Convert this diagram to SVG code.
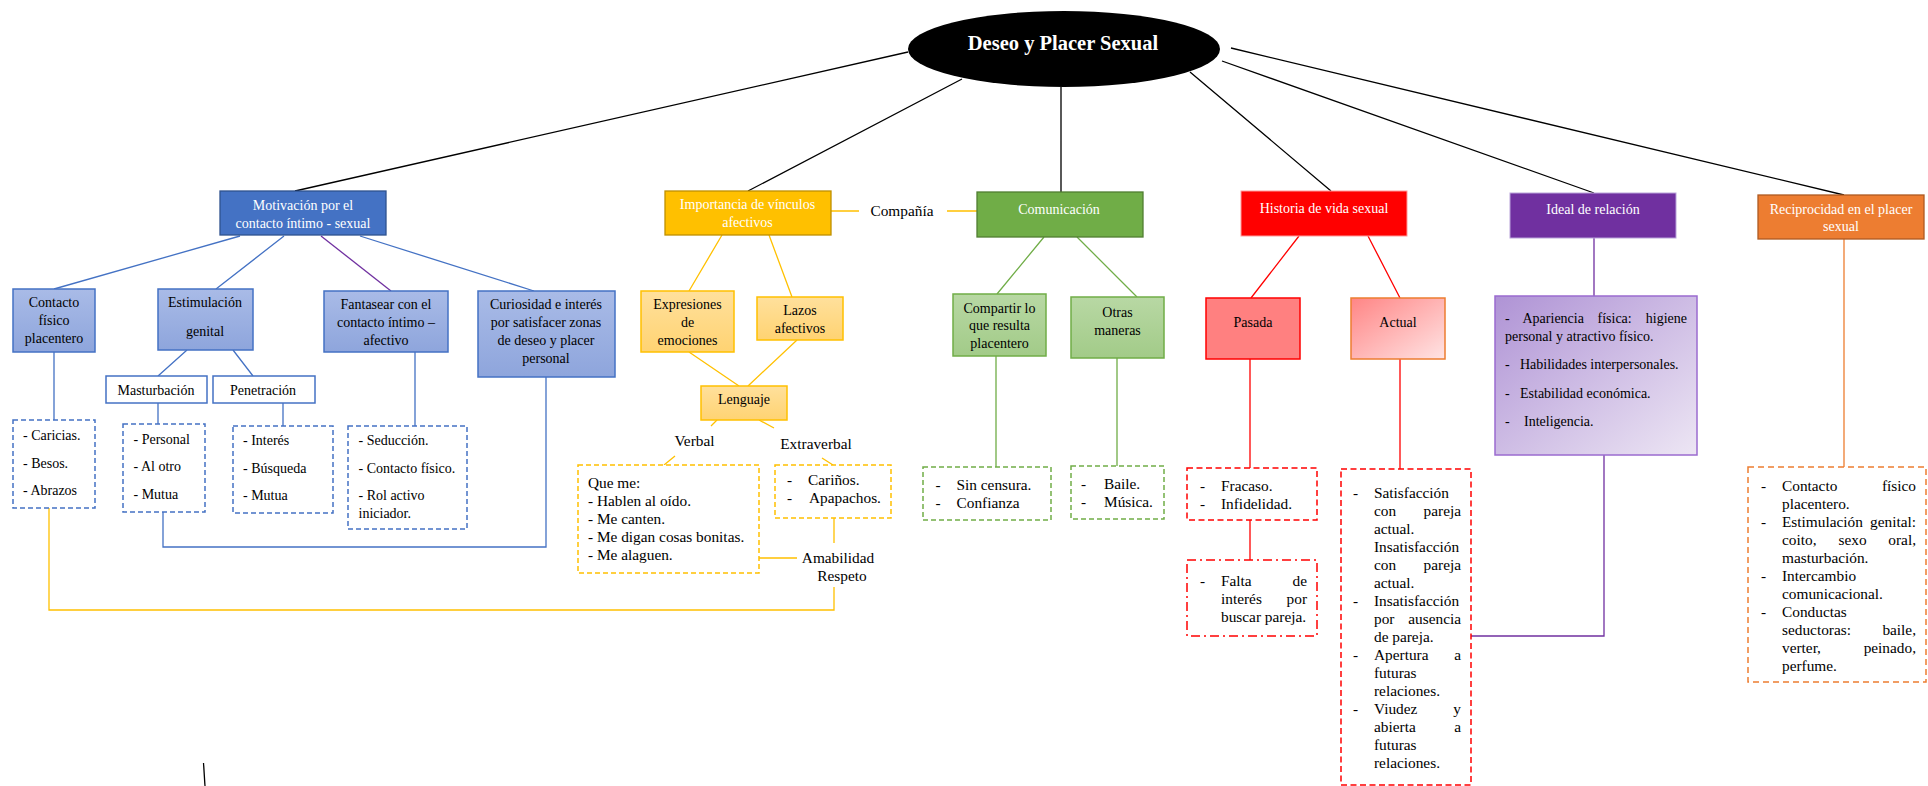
<svg xmlns="http://www.w3.org/2000/svg" width="1928" height="786" viewBox="0 0 1928 786">
<defs>
<linearGradient id="gBlue" x1="0" y1="0" x2="0" y2="1"><stop offset="0" stop-color="#A9BBE7"/><stop offset="1" stop-color="#8EA5DC"/></linearGradient>
<linearGradient id="gYel" x1="0" y1="0" x2="0" y2="1"><stop offset="0" stop-color="#FFE09C"/><stop offset="1" stop-color="#FFD372"/></linearGradient>
<linearGradient id="gGrn" x1="0" y1="0" x2="0" y2="1"><stop offset="0" stop-color="#B8D8A4"/><stop offset="1" stop-color="#A2CB88"/></linearGradient>
<linearGradient id="gAct" x1="0" y1="0" x2="1" y2="1"><stop offset="0" stop-color="#FF8585"/><stop offset="1" stop-color="#FFE4E4"/></linearGradient>
<linearGradient id="gPur" x1="0" y1="0" x2="1" y2="1"><stop offset="0" stop-color="#AF93D5"/><stop offset="1" stop-color="#EDE6F4"/></linearGradient>
</defs>
<style>
text{font-family:"Liberation Serif","Times New Roman",serif;fill:#000}
.t14{font-size:14px}
.t15{font-size:15.33px}
.w{fill:#fff}
.c{text-anchor:middle}
.e{text-anchor:end}
.ln{fill:none;stroke-width:1.3}
.k{stroke:#000}
.b{stroke:#4472C4}
.p{stroke:#7030A0}
.y{stroke:#FFC000}
.g{stroke:#70AD47}
.r{stroke:#FF0000}
.o{stroke:#ED7D31}
.dB{fill:#fff;stroke:#4472C4;stroke-width:1.5;stroke-dasharray:5 3}
.dY{fill:#fff;stroke:#FFC000;stroke-width:1.5;stroke-dasharray:5 3}
.dG{fill:#fff;stroke:#70AD47;stroke-width:1.5;stroke-dasharray:5 3}
.dR{fill:#fff;stroke:#FF0000;stroke-width:1.5;stroke-dasharray:6 3.5}
.dRd{fill:#fff;stroke:#FF0000;stroke-width:1.5;stroke-dasharray:9 4 2 4}
.dO{fill:#fff;stroke:#ED7D31;stroke-width:1.5;stroke-dasharray:6 4}
.bB{fill:url(#gBlue);stroke:#4472C4;stroke-width:1.5}
.bY{fill:url(#gYel);stroke:#FFC000;stroke-width:1.5}
.bG{fill:url(#gGrn);stroke:#70AD47;stroke-width:1.5}
</style>
<rect width="1928" height="786" fill="#fff"/>

<g id="connectors">
<path class="ln k" d="M908,52 L295,191 M962,79 L748,191 M1061,87 L1061,192 M1190,72 L1331,191 M1222,61 L1594,193 M1231,48 L1844,195"/>
<path class="ln b" d="M240,236 L54,289 M284,236 L216,289 M360,236 L534,291 M187,350 L158,376 M233,350 L253,376 M54,352 L54,420 M158,403 L158,424 M283,403 L283,426 M415,352 L415,426 M546,377 L546,547 L163,547 L163,512"/>
<path class="ln p" d="M321,236 L391,291"/>
<path class="ln y" d="M831,211 L859,211 M947,211 L977,211 M722,235 L689,291 M769,235 L792,297 M689,352 L739,386 M797,340 L748,386 M717,420 L711,426 M759,420 L774,428 M675,456 L664,465 M822,458 L833,465 M834,518 L834,543 M759,558 L797,558 M49,508 L49,610 L834,610 L834,587"/>
<path class="ln g" d="M1044,237 L997,294 M1077,237 L1137,297 M996,356 L996,467 M1117,358 L1117,466"/>
<path class="ln r" d="M1299,236 L1251,298 M1368,236 L1400,298 M1250,359 L1250,468 M1400,359 L1400,469 M1250,520 L1250,560"/>
<path class="ln p" d="M1594,238 L1594,296 M1604,455 L1604,636 L1471,636"/>
<path class="ln o" d="M1844,239 L1844,467"/>
<path class="ln k" d="M203.5,763 L205,786"/>
</g>

<g id="root">
<ellipse cx="1064" cy="49" rx="156" ry="38" fill="#000"/>
<text x="1063" y="50" class="c w" style="font-size:20.5px;font-weight:bold">Deseo y Placer Sexual</text>
</g>

<g id="motivacion">
<rect x="220" y="191" width="166" height="44" fill="#4472C4" stroke="#2F528F" stroke-width="1.3"/>
<text class="t14 c w" x="303" y="210">Motivación por el</text>
<text class="t14 c w" x="303" y="228">contacto íntimo - sexual</text>
</g>
<g id="contacto">
<rect class="bB" x="13" y="289" width="82" height="63"/>
<text class="t14 c" x="54" y="307">Contacto</text>
<text class="t14 c" x="54" y="324.5">físico</text>
<text class="t14 c" x="54" y="342.5">placentero</text>
</g>
<g id="estimulacion">
<rect class="bB" x="158" y="289" width="95" height="61"/>
<text class="t14 c" x="205" y="307">Estimulación</text>
<text class="t14 c" x="205" y="336">genital</text>
</g>
<g id="fantasear">
<rect class="bB" x="324" y="291" width="124" height="61"/>
<text class="t14 c" x="386" y="308.5">Fantasear con el</text>
<text class="t14 c" x="386" y="326.5">contacto íntimo –</text>
<text class="t14 c" x="386" y="344.5">afectivo</text>
</g>
<g id="curiosidad">
<rect class="bB" x="478" y="291" width="137" height="86"/>
<text class="t14 c" x="546" y="308.5">Curiosidad e interés</text>
<text class="t14 c" x="546" y="326.5">por satisfacer zonas</text>
<text class="t14 c" x="546" y="344.5">de deseo y placer</text>
<text class="t14 c" x="546" y="362.5">personal</text>
</g>
<g id="masturbacion">
<rect x="106" y="376" width="101" height="27" fill="#fff" stroke="#4472C4" stroke-width="1.5"/>
<text class="t14 c" x="156" y="394.5">Masturbación</text>
</g>
<g id="penetracion">
<rect x="213" y="376" width="102" height="27" fill="#fff" stroke="#4472C4" stroke-width="1.5"/>
<text class="t14 c" x="263" y="394.5">Penetración</text>
</g>
<g id="caricias">
<rect class="dB" x="13" y="420" width="82" height="88"/>
<text class="t14" x="23" y="439.5">- Caricias.</text>
<text class="t14" x="23" y="467.5">- Besos.</text>
<text class="t14" x="23" y="495">- Abrazos</text>
</g>
<g id="personal">
<rect class="dB" x="123" y="424" width="82" height="88"/>
<text class="t14" x="133.5" y="443.5">- Personal</text>
<text class="t14" x="133.5" y="471">- Al otro</text>
<text class="t14" x="133.5" y="499">- Mutua</text>
</g>
<g id="interes">
<rect class="dB" x="233" y="426" width="100" height="87"/>
<text class="t14" x="243" y="444.5">- Interés</text>
<text class="t14" x="243" y="472.5">- Búsqueda</text>
<text class="t14" x="243" y="500">- Mutua</text>
</g>
<g id="seduccion">
<rect class="dB" x="348" y="426" width="119" height="103"/>
<text class="t14" x="358.5" y="444.5">- Seducción.</text>
<text class="t14" x="358.5" y="472.5">- Contacto físico.</text>
<text class="t14" x="358.5" y="500">- Rol activo</text>
<text class="t14" x="358.5" y="518">iniciador.</text>
</g>

<g id="importancia">
<rect x="665" y="191" width="166" height="44" fill="#FFC000" stroke="#BF9000" stroke-width="1.3"/>
<text class="t14 c w" x="747.5" y="208.5">Importancia de vínculos</text>
<text class="t14 c w" x="747.5" y="226.5">afectivos</text>
</g>
<g id="compania"><text class="t15 c" x="902" y="215.5">Compañía</text></g>
<g id="expresiones">
<rect class="bY" x="641" y="291" width="93" height="61"/>
<text class="t14 c" x="687.5" y="308.5">Expresiones</text>
<text class="t14 c" x="687.5" y="326.5">de</text>
<text class="t14 c" x="687.5" y="344.5">emociones</text>
</g>
<g id="lazos">
<rect class="bY" x="757" y="297" width="86" height="43"/>
<text class="t14 c" x="800" y="314.5">Lazos</text>
<text class="t14 c" x="800" y="332.5">afectivos</text>
</g>
<g id="lenguaje">
<rect class="bY" x="701" y="386" width="86" height="34"/>
<text class="t14 c" x="744" y="403.5">Lenguaje</text>
</g>
<g id="verbal"><text class="t15 c" x="694.5" y="446">Verbal</text></g>
<g id="extraverbal"><text class="t15 c" x="816" y="448.5">Extraverbal</text></g>
<g id="queme">
<rect class="dY" x="578" y="465" width="181" height="108"/>
<text class="t15" x="588" y="488">Que me:</text>
<text class="t15" x="588" y="506">- Hablen al oído.</text>
<text class="t15" x="588" y="524">- Me canten.</text>
<text class="t15" x="588" y="542">- Me digan cosas bonitas.</text>
<text class="t15" x="588" y="560">- Me alaguen.</text>
</g>
<g id="carinos">
<rect class="dY" x="775" y="465" width="116" height="53"/>
<text class="t15" x="787" y="484.5">-</text>
<text class="t15" x="808" y="484.5">Cariños.</text>
<text class="t15" x="787" y="502.5">-</text>
<text class="t15" x="809" y="502.5">Apapachos.</text>
</g>
<g id="amabilidad">
<text class="t15 c" x="838" y="563">Amabilidad</text>
<text class="t15 c" x="842" y="581">Respeto</text>
</g>

<g id="comunicacion">
<rect x="977" y="192" width="166" height="45" fill="#70AD47" stroke="#507E32" stroke-width="1.3"/>
<text class="t14 c w" x="1059" y="213.5">Comunicación</text>
</g>
<g id="compartir">
<rect class="bG" x="953" y="294" width="93" height="62"/>
<text class="t14 c" x="999.5" y="312.5">Compartir lo</text>
<text class="t14 c" x="999.5" y="330">que resulta</text>
<text class="t14 c" x="999.5" y="348">placentero</text>
</g>
<g id="otras">
<rect class="bG" x="1071" y="297" width="93" height="61"/>
<text class="t14 c" x="1117.5" y="317">Otras</text>
<text class="t14 c" x="1117.5" y="335">maneras</text>
</g>
<g id="sincensura">
<rect class="dG" x="923" y="467" width="128" height="53"/>
<text class="t15" x="935.5" y="490">-</text>
<text class="t15" x="956.5" y="490">Sin censura.</text>
<text class="t15" x="935.5" y="508">-</text>
<text class="t15" x="956.5" y="508">Confianza</text>
</g>
<g id="baile">
<rect class="dG" x="1071" y="466" width="93" height="53"/>
<text class="t15" x="1081" y="489">-</text>
<text class="t15" x="1104" y="489">Baile.</text>
<text class="t15" x="1081" y="507">-</text>
<text class="t15" x="1104" y="507">Música.</text>
</g>

<g id="historia">
<rect x="1241" y="191" width="166" height="45" fill="#FF0000" stroke="#FF9A9A" stroke-width="1"/>
<text class="t14 c w" x="1324" y="212.5">Historia de vida sexual</text>
</g>
<g id="pasada">
<rect x="1206" y="298" width="94" height="61" fill="#FF8080" stroke="#FF0000" stroke-width="1.5"/>
<text class="t14 c" x="1253" y="327">Pasada</text>
</g>
<g id="actual">
<rect x="1351" y="298" width="94" height="61" fill="url(#gAct)" stroke="#ED7D31" stroke-width="1.5"/>
<text class="t14 c" x="1398" y="327">Actual</text>
</g>
<g id="fracaso">
<rect class="dR" x="1187" y="468" width="130" height="52"/>
<text class="t15" x="1200" y="490.5">-</text>
<text class="t15" x="1221" y="490.5">Fracaso.</text>
<text class="t15" x="1200" y="508.5">-</text>
<text class="t15" x="1221" y="508.5">Infidelidad.</text>
</g>
<g id="falta">
<rect class="dRd" x="1187" y="560" width="130" height="76"/>
<text class="t15" x="1200" y="586">-</text>
<text class="t15" x="1221" y="586">Falta</text>
<text class="t15 e" x="1307" y="586">de</text>
<text class="t15" x="1221" y="604">interés</text>
<text class="t15 e" x="1307" y="604">por</text>
<text class="t15" x="1221" y="622">buscar pareja.</text>
</g>
<g id="actual-lista">
<rect class="dR" x="1341" y="469" width="130" height="316"/>
<text class="t15" x="1353" y="498">-</text>
<text class="t15" x="1374" y="498">Satisfacción</text>
<text class="t15" x="1374" y="516">con</text><text class="t15 e" x="1461" y="516">pareja</text>
<text class="t15" x="1374" y="534">actual.</text>
<text class="t15" x="1374" y="552">Insatisfacción</text>
<text class="t15" x="1374" y="570">con</text><text class="t15 e" x="1461" y="570">pareja</text>
<text class="t15" x="1374" y="588">actual.</text>
<text class="t15" x="1353" y="606">-</text>
<text class="t15" x="1374" y="606">Insatisfacción</text>
<text class="t15" x="1374" y="624">por</text><text class="t15 e" x="1461" y="624">ausencia</text>
<text class="t15" x="1374" y="642">de pareja.</text>
<text class="t15" x="1353" y="660">-</text>
<text class="t15" x="1374" y="660">Apertura</text><text class="t15 e" x="1461" y="660">a</text>
<text class="t15" x="1374" y="678">futuras</text>
<text class="t15" x="1374" y="696">relaciones.</text>
<text class="t15" x="1353" y="714">-</text>
<text class="t15" x="1374" y="714">Viudez</text><text class="t15 e" x="1461" y="714">y</text>
<text class="t15" x="1374" y="732">abierta</text><text class="t15 e" x="1461" y="732">a</text>
<text class="t15" x="1374" y="750">futuras</text>
<text class="t15" x="1374" y="768">relaciones.</text>
</g>

<g id="ideal">
<rect x="1510" y="193" width="166" height="45" fill="#7030A0" stroke="#B9A3DA" stroke-width="1"/>
<text class="t14 c w" x="1593" y="213.5">Ideal de relación</text>
</g>
<g id="ideal-lista">
<rect x="1495" y="296" width="202" height="159" fill="url(#gPur)" stroke="#9B6BCF" stroke-width="1.5"/>
<text class="t14" x="1505" y="323">-</text>
<text class="t14" x="1522.5" y="323">Apariencia</text>
<text class="t14" x="1597.5" y="323">física:</text>
<text class="t14 e" x="1687" y="323">higiene</text>
<text class="t14" x="1505" y="341">personal y atractivo físico.</text>
<text class="t14" x="1505" y="369">-</text>
<text class="t14" x="1520" y="369">Habilidades interpersonales.</text>
<text class="t14" x="1505" y="397.5">-</text>
<text class="t14" x="1520" y="397.5">Estabilidad económica.</text>
<text class="t14" x="1505" y="426">-</text>
<text class="t14" x="1524" y="426">Inteligencia.</text>
</g>

<g id="reciprocidad">
<rect x="1758" y="195" width="166" height="44" fill="#ED7D31" stroke="#AE5A21" stroke-width="1.3"/>
<text class="t14 c w" x="1841" y="213.5">Reciprocidad en el placer</text>
<text class="t14 c w" x="1841" y="230.5">sexual</text>
</g>
<g id="reciprocidad-lista">
<rect class="dO" x="1748" y="467" width="178" height="215"/>
<text class="t15" x="1761" y="491">-</text>
<text class="t15" x="1782" y="491">Contacto</text><text class="t15 e" x="1916" y="491">físico</text>
<text class="t15" x="1782" y="509">placentero.</text>
<text class="t15" x="1761" y="527">-</text>
<text class="t15" x="1782" y="527">Estimulación</text><text class="t15 e" x="1916" y="527">genital:</text>
<text class="t15" x="1782" y="545">coito,</text><text class="t15" x="1838.5" y="545">sexo</text><text class="t15 e" x="1916" y="545">oral,</text>
<text class="t15" x="1782" y="563">masturbación.</text>
<text class="t15" x="1761" y="581">-</text>
<text class="t15" x="1782" y="581">Intercambio</text>
<text class="t15" x="1782" y="599">comunicacional.</text>
<text class="t15" x="1761" y="617">-</text>
<text class="t15" x="1782" y="617">Conductas</text>
<text class="t15" x="1782" y="635">seductoras:</text><text class="t15 e" x="1916" y="635">baile,</text>
<text class="t15" x="1782" y="653">verter,</text><text class="t15 e" x="1916" y="653">peinado,</text>
<text class="t15" x="1782" y="671">perfume.</text>
</g>
</svg>
